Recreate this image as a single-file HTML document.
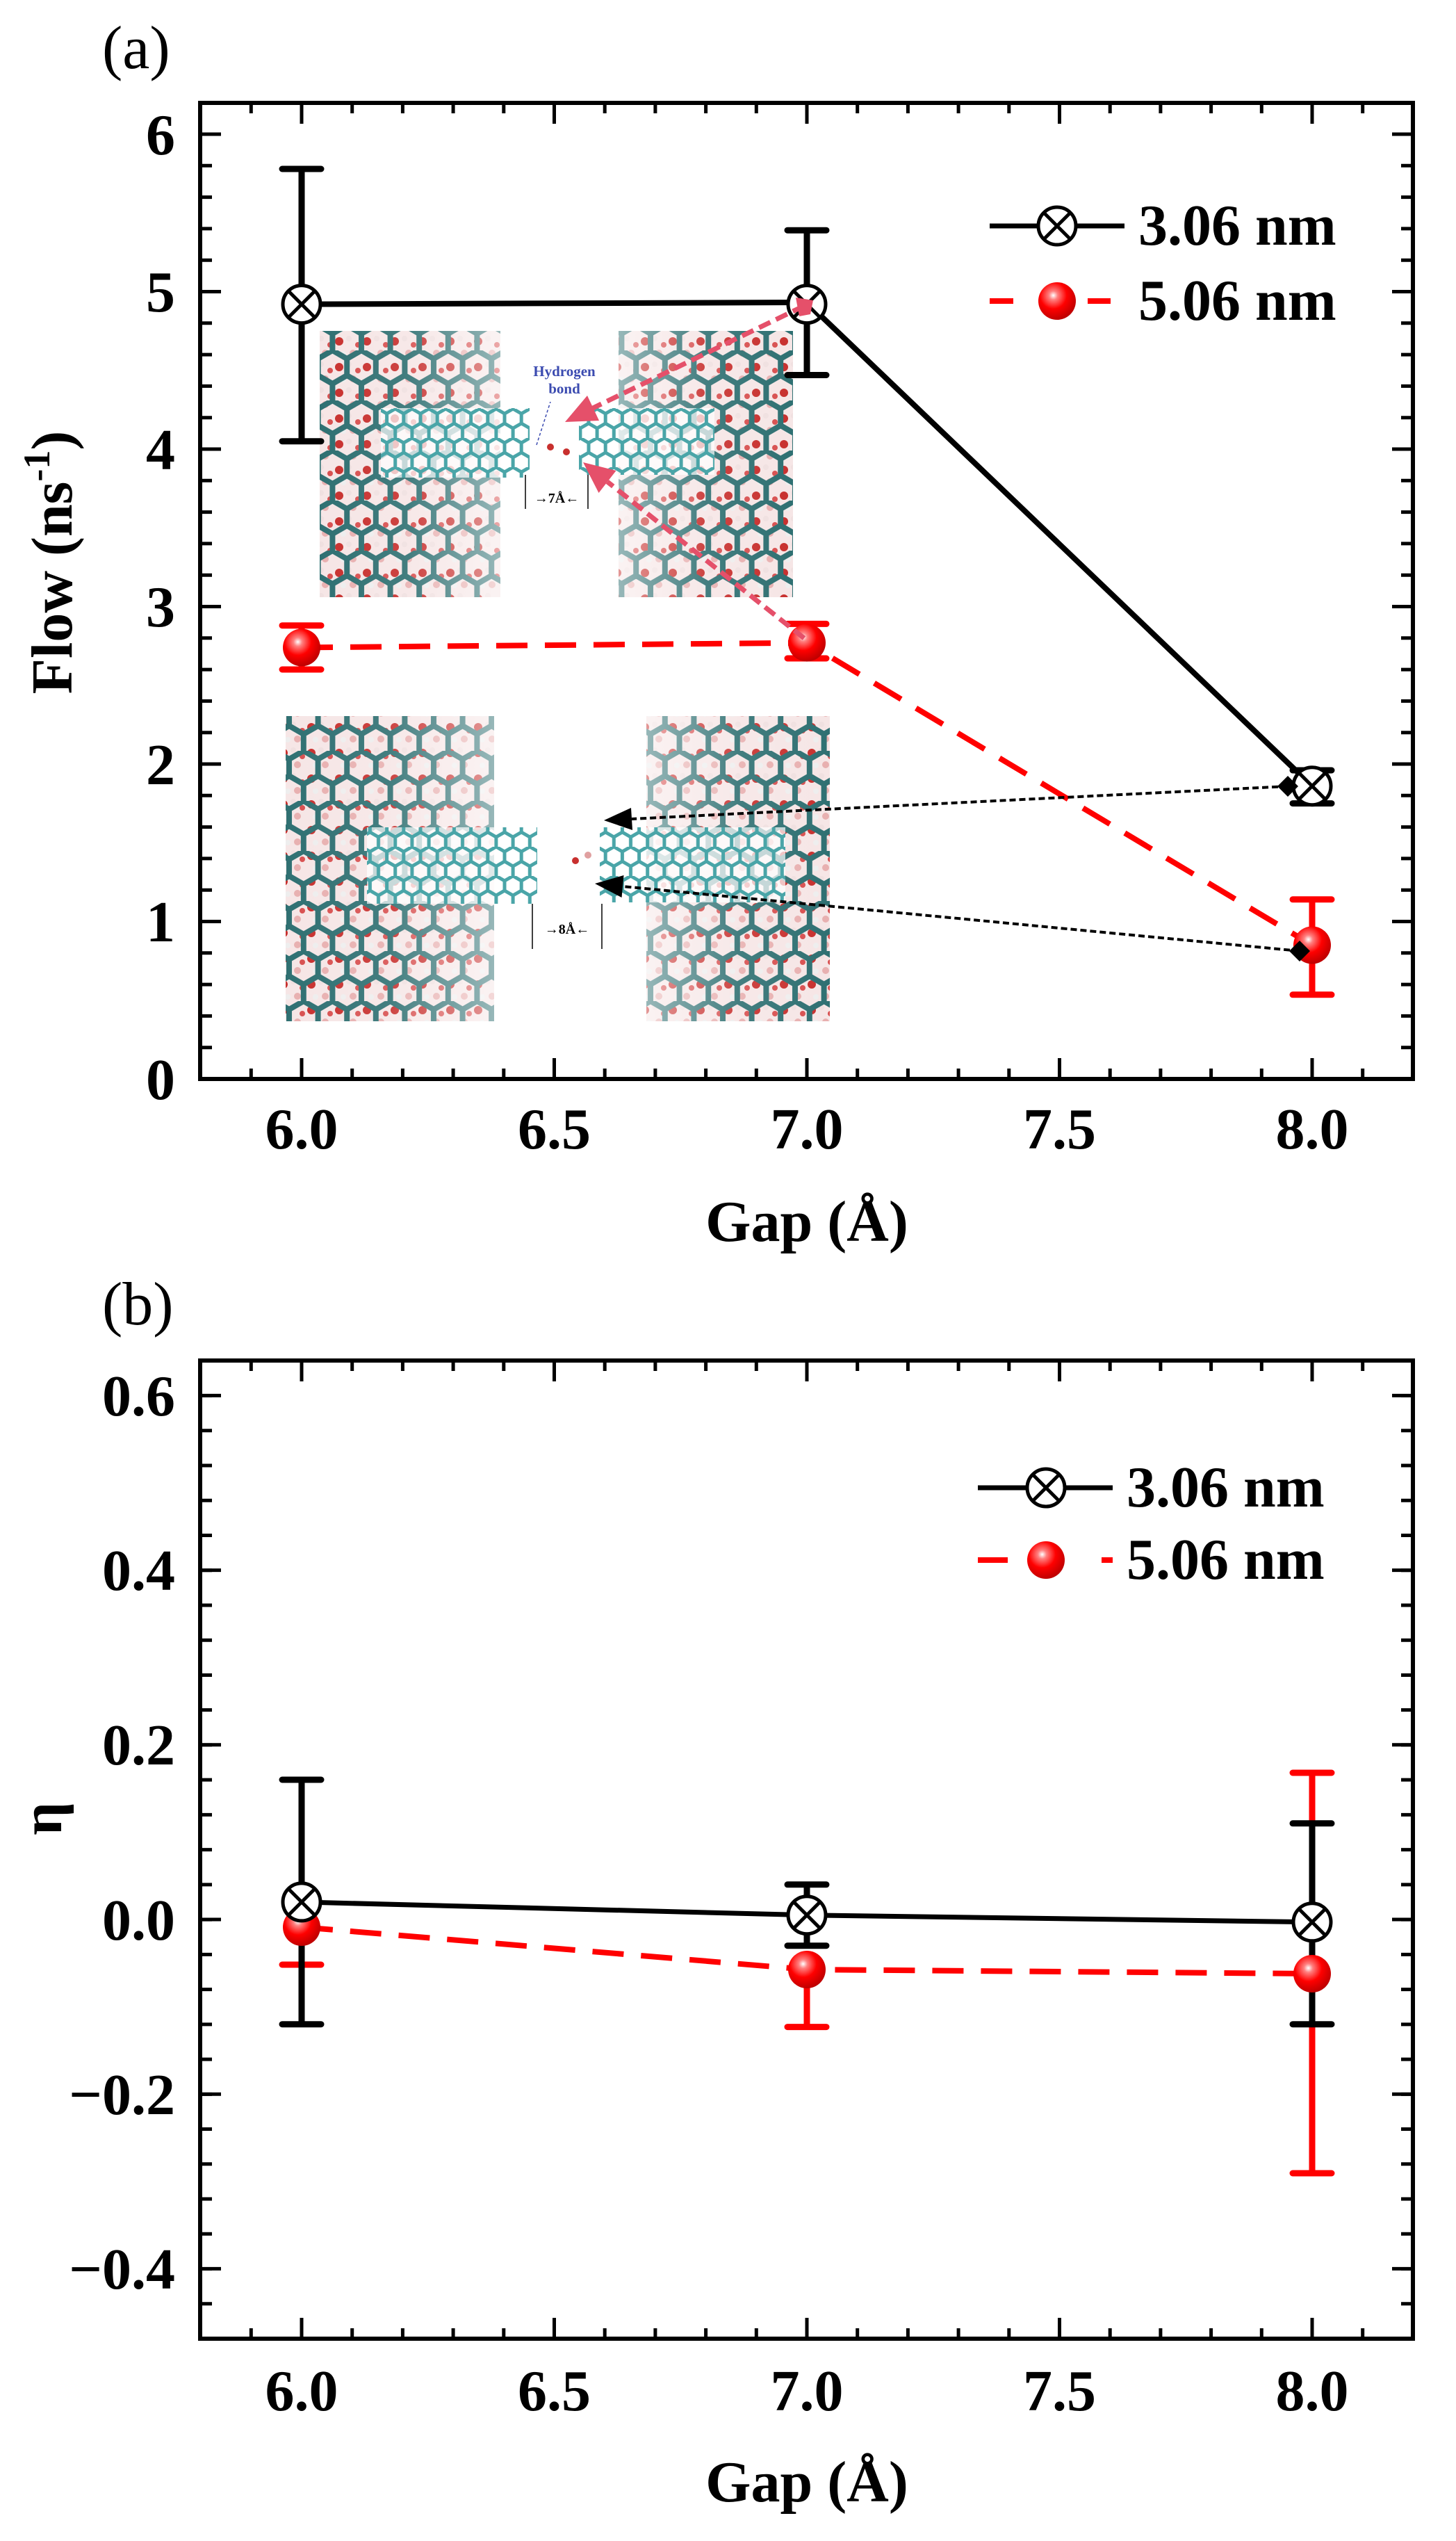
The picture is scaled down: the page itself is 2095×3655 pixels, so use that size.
<!DOCTYPE html>
<html><head><meta charset="utf-8"><style>
html,body{margin:0;padding:0;background:#fff;}
svg{display:block;}
text{font-family:"Liberation Serif",serif;}
</style></head><body>
<svg width="2095" height="3655" viewBox="0 0 2095 3655" xmlns="http://www.w3.org/2000/svg">
<defs>
<pattern id="hexD" width="41.6" height="72" patternUnits="userSpaceOnUse"><path d="M0,12 L20.8,0 L41.6,12 L41.6,36 L20.8,48 L0,36 Z M20.8,48 L20.8,72" fill="none" stroke="#2f7072" stroke-width="8"/></pattern>
<pattern id="hexT" width="24.2" height="42" patternUnits="userSpaceOnUse"><path d="M0,7 L12.1,0 L24.2,7 L24.2,21 L12.1,28 L0,21 Z M12.1,28 L12.1,42" fill="none" stroke="#4aa5a8" stroke-width="5"/></pattern>
<pattern id="dots" width="40" height="37" patternUnits="userSpaceOnUse"><circle cx="8" cy="10" r="6" fill="#c8302e"/><circle cx="28" cy="27" r="5" fill="#e8b0b0"/><circle cx="22" cy="6" r="4" fill="#f0e0e0"/><circle cx="35" cy="15" r="4" fill="#d85050"/><circle cx="14" cy="28" r="4" fill="#eee"/></pattern>
<linearGradient id="fadeL" x1="0" x2="1" y1="0" y2="0"><stop offset="0" stop-color="#fff" stop-opacity="0"/><stop offset="0.5" stop-color="#fff" stop-opacity="0.1"/><stop offset="1" stop-color="#fff" stop-opacity="0.5"/></linearGradient>
<linearGradient id="fadeR" x1="1" x2="0" y1="0" y2="0"><stop offset="0" stop-color="#fff" stop-opacity="0"/><stop offset="0.5" stop-color="#fff" stop-opacity="0.1"/><stop offset="1" stop-color="#fff" stop-opacity="0.5"/></linearGradient>
<radialGradient id="sph" cx="0.4" cy="0.35" r="0.65"><stop offset="0" stop-color="#ffffff"/><stop offset="0.18" stop-color="#ff8080"/><stop offset="0.55" stop-color="#ff0000"/><stop offset="1" stop-color="#c00000"/></radialGradient>
<clipPath id="c1"><rect x="460" y="476" width="681" height="383"/></clipPath>
<clipPath id="c2"><rect x="411" y="1030" width="783" height="439"/></clipPath>
<g id="xm"><circle r="27" fill="#fff" stroke="#000" stroke-width="5"/><path d="M-19,-19 L19,19 M-19,19 L19,-19" stroke="#000" stroke-width="5"/></g>
<g id="rs"><circle r="27" fill="url(#sph)"/></g>
</defs>

<text x="147" y="98" font-size="88">(a)</text>

<g clip-path="url(#c1)">
<rect x="460" y="476" width="681" height="383" fill="#fff"/>
<rect x="460" y="476" width="260" height="383" fill="#f6e6e6"/>
<rect x="460" y="476" width="260" height="383" fill="url(#dots)"/>
<rect x="460" y="476" width="260" height="383" fill="url(#hexD)"/>
<rect x="460" y="476" width="260" height="383" fill="url(#fadeL)"/>
<rect x="890" y="476" width="251" height="383" fill="#f6e6e6"/>
<rect x="890" y="476" width="251" height="383" fill="url(#dots)"/>
<rect x="890" y="476" width="251" height="383" fill="url(#hexD)"/>
<rect x="890" y="476" width="251" height="383" fill="url(#fadeR)"/>
<rect x="548" y="587" width="214" height="100" fill="#fff" opacity="0.7"/>
<rect x="548" y="587" width="214" height="100" fill="url(#hexT)"/>
<rect x="833" y="587" width="195" height="96" fill="#fff" opacity="0.7"/>
<rect x="833" y="587" width="195" height="96" fill="url(#hexT)"/>
<circle cx="792" cy="643" r="5" fill="#c8302e"/><circle cx="815" cy="650" r="5" fill="#c8302e"/>
<text x="812" y="541" font-size="21" font-weight="bold" fill="#3b4bb0" text-anchor="middle">Hydrogen</text>
<text x="812" y="566" font-size="21" font-weight="bold" fill="#3b4bb0" text-anchor="middle">bond</text>
<path d="M772,640 L792,578" stroke="#3b4bb0" stroke-width="1.5" stroke-dasharray="4 3"/>
<path d="M756,683 V732 M846,683 V732" stroke="#000" stroke-width="1.5"/>
<text x="801" y="723" font-size="20" font-weight="bold" text-anchor="middle">→7Å←</text>
</g>

<g clip-path="url(#c2)">
<rect x="411" y="1030" width="783" height="439" fill="#fff"/>
<rect x="411" y="1030" width="300" height="439" fill="#f6e6e6"/>
<rect x="411" y="1030" width="300" height="439" fill="url(#dots)"/>
<rect x="411" y="1030" width="300" height="439" fill="url(#hexD)"/>
<rect x="411" y="1030" width="300" height="439" fill="url(#fadeL)"/>
<rect x="930" y="1030" width="264" height="439" fill="#f6e6e6"/>
<rect x="930" y="1030" width="264" height="439" fill="url(#dots)"/>
<rect x="930" y="1030" width="264" height="439" fill="url(#hexD)"/>
<rect x="930" y="1030" width="264" height="439" fill="url(#fadeR)"/>
<rect x="528" y="1190" width="245" height="110" fill="#fff" opacity="0.7"/>
<rect x="528" y="1190" width="245" height="110" fill="url(#hexT)"/>
<rect x="863" y="1190" width="267" height="108" fill="#fff" opacity="0.7"/>
<rect x="863" y="1190" width="267" height="108" fill="url(#hexT)"/>
<circle cx="828" cy="1238" r="5" fill="#c8302e"/><circle cx="846" cy="1230" r="5" fill="#e0a0a0"/>
<path d="M766,1300 V1365 M866,1300 V1365" stroke="#000" stroke-width="1.5"/>
<text x="816" y="1343" font-size="20" font-weight="bold" text-anchor="middle">→8Å←</text>
</g>

<rect x="288" y="148" width="1745" height="1404" fill="none" stroke="#000" stroke-width="6"/>
<g stroke="#000" fill="none">
<line x1="358.8" y1="1544.5" x2="2033" y2="1544.5" stroke-width="15" stroke-dasharray="5 67.7"/>
<line x1="431.5" y1="1537" x2="2033" y2="1537" stroke-width="30" stroke-dasharray="5 358.5"/>
<line x1="358.8" y1="155.5" x2="2033" y2="155.5" stroke-width="15" stroke-dasharray="5 67.7"/>
<line x1="431.5" y1="163" x2="2033" y2="163" stroke-width="30" stroke-dasharray="5 358.5"/>
<line x1="296.5" y1="1554.5" x2="296.5" y2="148" stroke-width="17" stroke-dasharray="5 40.3"/>
<line x1="303" y1="1554.5" x2="303" y2="148" stroke-width="30" stroke-dasharray="5 221.5"/>
<line x1="2024.5" y1="1554.5" x2="2024.5" y2="148" stroke-width="17" stroke-dasharray="5 40.3"/>
<line x1="2018" y1="1554.5" x2="2018" y2="148" stroke-width="30" stroke-dasharray="5 221.5"/>
</g>
<g font-size="84" font-weight="bold" text-anchor="end">
<text x="252" y="1581">0</text><text x="252" y="1354">1</text><text x="252" y="1128">2</text>
<text x="252" y="901">3</text><text x="252" y="675">4</text><text x="252" y="448">5</text><text x="252" y="222">6</text>
</g>
<g font-size="84" font-weight="bold" text-anchor="middle">
<text x="434" y="1652">6.0</text><text x="797.5" y="1652">6.5</text><text x="1161" y="1652">7.0</text>
<text x="1524.5" y="1652">7.5</text><text x="1888" y="1652">8.0</text>
<text x="1161" y="1785">Gap (Å)</text>
</g>
<text transform="translate(103,809) rotate(-90)" font-size="84" font-weight="bold" text-anchor="middle">Flow (ns<tspan font-size="54" dy="-32">-1</tspan><tspan dy="32">)</tspan></text>

<g stroke="#000" stroke-width="9" stroke-linecap="round">
<path d="M434,243 V634.7 M406,243 H462 M406,634.7 H462"/>
<path d="M1161,331.2 V539.5 M1133,331.2 H1189 M1133,539.5 H1189"/>
<path d="M1888,1108 V1155.6 M1860,1108 H1916 M1860,1155.6 H1916"/>
</g>
<path d="M434,437.6 L1161,435 L1888,1130.7" fill="none" stroke="#000" stroke-width="8"/>
<g stroke="#f00" stroke-width="9" stroke-linecap="round">
<path d="M434,899.7 V963 M406,899.7 H462 M406,963 H462"/>
<path d="M1161,897.4 V947 M1133,897.4 H1189 M1133,947 H1189"/>
<path d="M1888,1293.8 V1430.8 M1860,1293.8 H1916 M1860,1430.8 H1916"/>
</g>
<path d="M434,931.4 L1161,924.6 L1888,1359.5" fill="none" stroke="#f00" stroke-width="8" stroke-dasharray="45 25"/>
<use href="#rs" x="434" y="931.4"/><use href="#rs" x="1161" y="924.6"/><use href="#rs" x="1888" y="1359.5"/>
<use href="#xm" x="434" y="437.6"/><use href="#xm" x="1161" y="437.6"/><use href="#xm" x="1888" y="1130.7"/>

<g stroke="#e5506a" stroke-width="7" stroke-dasharray="18 9" fill="none">
<path d="M1157,440 L853,587"/>
<path d="M1157,918 L874,693"/>
</g>
<g fill="#e5506a">
<path d="M813,607 L862,605 L845,569 Z"/>
<path d="M839,665 L886.5,677 L861.5,709 Z"/>
<path d="M1145,428 L1170,432 L1166,452 L1150,455 Z"/>
</g>
<g stroke="#000" stroke-width="4" stroke-dasharray="9 5" fill="none">
<path d="M1853,1131 L909,1178"/>
<path d="M1870,1368 L896,1275"/>
</g>
<g fill="#000">
<path d="M869,1180 L910,1194 L908,1162 Z"/>
<path d="M856,1271 L897.5,1259 L894.5,1291 Z"/>
<path d="M1853,1116 L1868,1131 L1853,1146 L1838,1131 Z"/>
<path d="M1870,1353 L1885,1368 L1870,1383 L1855,1368 Z"/>
</g>

<path d="M1424,325 H1618" stroke="#000" stroke-width="7"/>
<use href="#xm" x="1521" y="325"/>
<path d="M1424,433 H1458 M1565,433 H1598" stroke="#f00" stroke-width="8"/>
<use href="#rs" x="1521" y="433"/>
<g font-size="84" font-weight="bold"><text x="1638" y="352">3.06 nm</text><text x="1638" y="460">5.06 nm</text></g>

<text x="147" y="1905" font-size="88">(b)</text>
<rect x="288" y="1957" width="1745" height="1407" fill="none" stroke="#000" stroke-width="6"/>
<g stroke="#000" fill="none">
<line x1="358.8" y1="3356.5" x2="2033" y2="3356.5" stroke-width="15" stroke-dasharray="5 67.7"/>
<line x1="431.5" y1="3349" x2="2033" y2="3349" stroke-width="30" stroke-dasharray="5 358.5"/>
<line x1="358.8" y1="1964.5" x2="2033" y2="1964.5" stroke-width="15" stroke-dasharray="5 67.7"/>
<line x1="431.5" y1="1972" x2="2033" y2="1972" stroke-width="30" stroke-dasharray="5 358.5"/>
<line x1="296.5" y1="3366.5" x2="296.5" y2="1957" stroke-width="17" stroke-dasharray="5 45.24"/>
<line x1="303" y1="3265.9" x2="303" y2="1957" stroke-width="30" stroke-dasharray="5 246.2"/>
<line x1="2024.5" y1="3366.5" x2="2024.5" y2="1957" stroke-width="17" stroke-dasharray="5 45.24"/>
<line x1="2018" y1="3265.9" x2="2018" y2="1957" stroke-width="30" stroke-dasharray="5 246.2"/>
</g>
<g font-size="84" font-weight="bold" text-anchor="end">
<text x="252" y="3292">−0.4</text><text x="252" y="3041">−0.2</text><text x="252" y="2790">0.0</text>
<text x="252" y="2538">0.2</text><text x="252" y="2287">0.4</text><text x="252" y="2036">0.6</text>
</g>
<g font-size="84" font-weight="bold" text-anchor="middle">
<text x="434" y="3467">6.0</text><text x="797.5" y="3467">6.5</text><text x="1161" y="3467">7.0</text>
<text x="1524.5" y="3467">7.5</text><text x="1888" y="3467">8.0</text>
<text x="1161" y="3598">Gap (Å)</text>
</g>
<text transform="translate(88,2616) rotate(-90)" font-size="84" font-weight="bold" text-anchor="middle">η</text>

<g stroke="#f00" stroke-width="9" stroke-linecap="round">
<path d="M434,2714.5 V2826 M406,2826 H462"/>
<path d="M1161,2833 V2915.6 M1133,2915.6 H1189"/>
<path d="M1888,2550 V3126 M1860,2550 H1916 M1860,3126 H1916"/>
</g>
<g stroke="#000" stroke-width="9" stroke-linecap="round">
<path d="M434,2560 V2911.7 M406,2560 H462 M406,2911.7 H462"/>
<path d="M1161,2710.8 V2798.7 M1133,2710.8 H1189 M1133,2798.7 H1189"/>
<path d="M1888,2622.8 V2911.7 M1860,2622.8 H1916 M1860,2911.7 H1916"/>
</g>
<path d="M434,2772 L1161,2833 L1888,2839" fill="none" stroke="#f00" stroke-width="8" stroke-dasharray="45 25"/>
<use href="#rs" x="434" y="2772"/><use href="#rs" x="1161" y="2833"/><use href="#rs" x="1888" y="2839"/>
<path d="M434,2735.9 L1161,2754.7 L1888,2764.8" fill="none" stroke="#000" stroke-width="7"/>
<use href="#xm" x="434" y="2735.9"/><use href="#xm" x="1161" y="2754.7"/><use href="#xm" x="1888" y="2764.8"/>

<path d="M1407,2140 H1601" stroke="#000" stroke-width="7"/>
<use href="#xm" x="1505" y="2140"/>
<path d="M1407,2244 H1450 M1585,2244 H1601" stroke="#f00" stroke-width="8"/>
<use href="#rs" x="1505" y="2244"/>
<g font-size="84" font-weight="bold"><text x="1621" y="2167">3.06 nm</text><text x="1621" y="2271">5.06 nm</text></g>
</svg>
</body></html>
